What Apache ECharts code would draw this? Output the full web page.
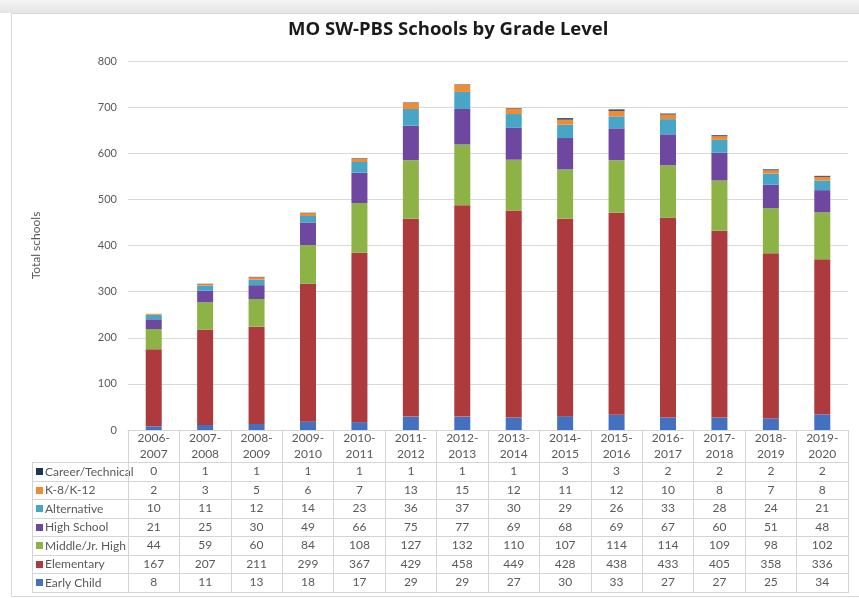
<!DOCTYPE html>
<html>
<head>
<meta charset="utf-8">
<script src="https://cdn.jsdelivr.net/npm/echarts@6/dist/echarts.min.js"></script>
<style>
  html, body { margin: 0; padding: 0; background: #fff; }
  #echart { width: 859px; height: 598px; }
</style>
</head>
<body>
<div id="echart"></div>
<script>
// school years (x categories)
const years = ["2006-2007", "2007-2008", "2008-2009", "2009-2010", "2010-2011", "2011-2012", "2012-2013",
  "2013-2014", "2014-2015", "2015-2016", "2016-2017", "2017-2018", "2018-2019", "2019-2020"];

// counts per grade level, bottom of stack first
const earlyChild = [8, 11, 13, 18, 17, 29, 29, 27, 30, 33, 27, 27, 25, 34];
const elementary = [167, 207, 211, 299, 367, 429, 458, 449, 428, 438, 433, 405, 358, 336];
const middleJrHigh = [44, 59, 60, 84, 108, 127, 132, 110, 107, 114, 114, 109, 98, 102];
const highSchool = [21, 25, 30, 49, 66, 75, 77, 69, 68, 69, 67, 60, 51, 48];
const alternative = [10, 11, 12, 14, 23, 36, 37, 30, 29, 26, 33, 28, 24, 21];
const k8k12 = [2, 3, 5, 6, 7, 13, 15, 12, 11, 12, 10, 8, 7, 8];
const careerTech = [0, 1, 1, 1, 1, 1, 1, 1, 3, 3, 2, 2, 2, 2];

const yTicks = { min: 0, max: 800, interval: 100 };

const seriesDefs = [
  { name: "Early Child", data: earlyChild, color: "#4470c0" },
  { name: "Elementary", data: elementary, color: "#ad3a3c" },
  { name: "Middle/Jr. High", data: middleJrHigh, color: "#8db346" },
  { name: "High School", data: highSchool, color: "#6d47a0" },
  { name: "Alternative", data: alternative, color: "#47a6c6" },
  { name: "K-8/K-12", data: k8k12, color: "#f08a33" },
  { name: "Career/Technical", data: careerTech, color: "#1f3556" }
];

// table rows top to bottom
const tableRows = seriesDefs.slice().reverse();

const font = "Lato, 'Open Sans', sans-serif";
const textGray = "#595959";
const lineGray = "#d4d4d4";

const gridLeft = 128, gridRight = 848, gridTop = 61, gridBottom = 430;
const tableLeft = 32, headerBottom = 462, rowH = 18.5, tableBottom = headerBottom + rowH * 7;

const chart = echarts.init(document.getElementById("echart"));

function decorations() {
  const g = [];
  // page band above the frame
  g.push({ type: "rect", shape: { x: 0, y: 0, width: 859, height: 13 }, silent: true,
    style: { fill: new echarts.graphic.LinearGradient(0, 0, 0, 1, [
      { offset: 0, color: "#f6f6f6" }, { offset: 1, color: "#e4e4e4" }]) } });
  // outer frame
  g.push({ type: "rect", shape: { x: 11.5, y: 13.5, width: 860, height: 583 },
    style: { fill: "none", stroke: "#d8d8d8", lineWidth: 1 }, silent: true });
  // table row lines
  for (let i = 0; i <= 7; i++) {
    const y = Math.round(headerBottom + rowH * i) + 0.5;
    g.push({ type: "line", shape: { x1: tableLeft, y1: y, x2: gridRight, y2: y },
      style: { stroke: lineGray, lineWidth: 1 }, silent: true });
  }
  g.push({ type: "line", shape: { x1: tableLeft + 0.5, y1: headerBottom, x2: tableLeft + 0.5, y2: Math.round(tableBottom) + 0.5 },
    style: { stroke: lineGray, lineWidth: 1 }, silent: true });
  // row headers with colour keys
  tableRows.forEach((s, i) => {
    const cy = headerBottom + rowH * (i + 0.5) + 0.5;
    g.push({ type: "rect", shape: { x: 36, y: Math.round(cy - 3.5), width: 7, height: 7 },
      style: { fill: s.color }, silent: true });
    g.push({ type: "text", x: 45, y: cy, silent: true,
      style: { text: s.name, fontFamily: font, fontSize: 12, fill: textGray, verticalAlign: "middle" } });
  });
  return g;
}

const option = {
  backgroundColor: "#fff",
  animation: false,
  title: {
    text: "MO SW-PBS Schools by Grade Level",
    left: 283,
    top: 15,
    textStyle: { fontFamily: "'Open Sans', sans-serif", fontWeight: "bold", fontSize: 18.5, color: "#1a1a1a" }
  },
  grid: { left: gridLeft, right: 859 - gridRight, top: gridTop, bottom: 598 - gridBottom, containLabel: false },
  xAxis: {
    type: "category",
    data: years,
    axisLine: { show: true, lineStyle: { color: lineGray } },
    axisTick: { show: true, interval: 0, length: Math.round(tableBottom - gridBottom) + 1, lineStyle: { color: lineGray } },
    axisLabel: {
      interval: 0,
      margin: 0,
      formatter: (value, idx) => {
        const parts = value.split("-");
        const lines = ["{h|" + parts[0] + "-}", "{h|" + parts[1] + "}"];
        tableRows.forEach((s) => lines.push("{v|" + s.data[idx] + "}"));
        return lines.join("\n");
      },
      rich: {
        h: { fontFamily: font, fontSize: 12, color: textGray, lineHeight: 16, align: "center" },
        v: { fontFamily: font, fontSize: 12, color: textGray, lineHeight: rowH, align: "center" }
      }
    }
  },
  yAxis: {
    type: "value",
    min: yTicks.min,
    max: yTicks.max,
    interval: yTicks.interval,
    name: "Total schools",
    nameLocation: "middle",
    nameGap: 86,
    nameTextStyle: { fontFamily: font, fontSize: 12, color: textGray },
    axisLine: { show: false },
    axisTick: { show: false },
    axisLabel: { fontFamily: font, fontSize: 11, color: textGray, margin: 11 },
    splitLine: { lineStyle: { color: "#d9d9d9", width: 1 } }
  },
  series: seriesDefs.map((s) => ({
    name: s.name,
    type: "bar",
    stack: "total",
    barWidth: 16,
    data: s.data,
    itemStyle: { color: s.color },
    emphasis: { disabled: true }
  })),
  graphic: decorations()
};

chart.setOption(option);
</script>
</body>
</html>
